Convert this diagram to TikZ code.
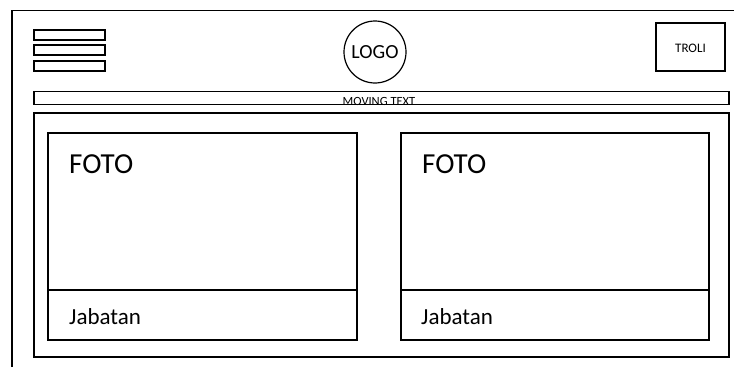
\documentclass[tikz,border=0pt]{standalone}
\usepackage{fontspec}
\setmainfont{Carlito}
\begin{document}
\begin{tikzpicture}[x=1pt,y=-1pt,
  frame/.style={draw=black,line width=1.3pt},
  thin/.style={draw=black,line width=1.1pt},
  lbl/.style={inner sep=0pt,text=black}]
\useasboundingbox (0,0) rectangle (734,367);
% outer frame
\draw[thin] (12,367) -- (12,10.5) -- (734,10.5);
% hamburger
\draw[frame] (34,30) rectangle (105,40);
\draw[frame] (34,45) rectangle (105,55);
\draw[frame] (34,61) rectangle (105,71);
% logo
\node[lbl,draw,circle,line width=1.2pt,minimum size=62pt] (logo) at (375,52) {};
\node[lbl,font=\fontsize{20}{24}\selectfont] (logotext) at (logo.center) {LOGO};
% troli
\draw[thin] (656,23) rectangle (725,71);
\node[lbl,font=\fontsize{13}{15}\selectfont] (troli) at (690.5,48) {TROLI};
% moving text bar
\draw[frame] (34,91.5) rectangle (729,104.5);
\node[lbl,anchor=base,font=\fontsize{12.5}{15}\selectfont] (moving) at (379,105) {MOVING TEXT};
% content box
\draw[frame] (34,113) rectangle (729,357);
% cards
\draw[frame] (48,133) rectangle (357,340);
\draw[frame] (48,290) -- (357,290);
\draw[frame] (401,133) rectangle (709,340);
\draw[frame] (401,290) -- (709,290);
\node[lbl,anchor=base west,font=\fontsize{29}{34}\selectfont] (foto1) at (69,173) {FOTO};
\node[lbl,anchor=base west,font=\fontsize{29}{34}\selectfont] (foto2) at (422,173) {FOTO};
\node[lbl,anchor=base west,font=\fontsize{23}{27}\selectfont] (jab1) at (69,324) {Jabatan};
\node[lbl,anchor=base west,font=\fontsize{23}{27}\selectfont] (jab2) at (421,324) {Jabatan};
\end{tikzpicture}
\end{document}
